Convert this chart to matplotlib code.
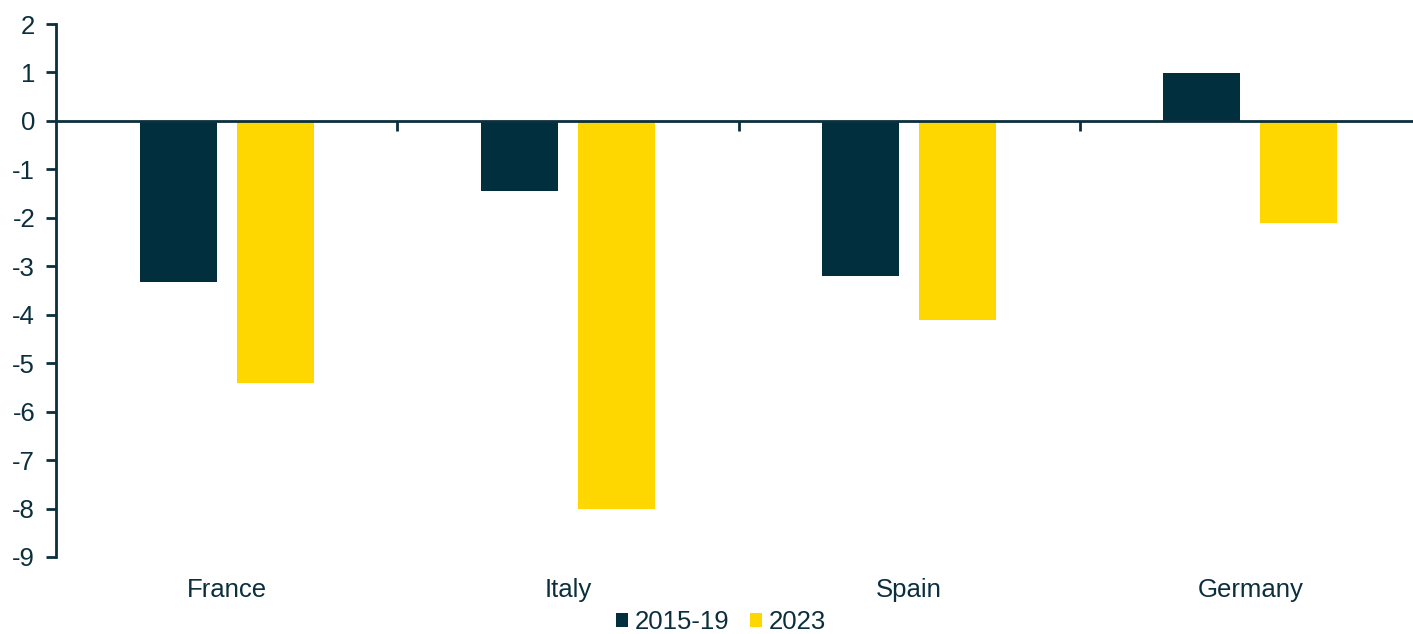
import numpy as np
import matplotlib
matplotlib.use("Agg")
import matplotlib.pyplot as plt
from matplotlib.transforms import blended_transform_factory

INK = "#0b2f3d"
DARK, YELLOW = "#022f3e", "#ffd700"
plt.rcParams.update({"font.family": ["Liberation Sans", "DejaVu Sans"], "font.size": 18.5,
                     "axes.unicode_minus": False,
                     "text.color": INK, "xtick.color": INK, "ytick.color": INK})

countries = ["France", "Italy", "Spain", "Germany"]
vals_1519 = [-3.33, -1.45, -3.2, 0.98]
vals_2023 = [-5.4, -8.0, -4.1, -2.1]

fig = plt.figure(figsize=(14.13, 6.34), dpi=100)
# axis runs a little past the right edge of the figure, as in the source
ax = fig.add_axes([56/1413, 1-557/634, 1365/1413, 533/634])

x = np.arange(len(countries))
w, gap = 0.226, 0.058
ax.bar(x - (w+gap)/2, vals_1519, w, color=DARK, label="2015-19")
ax.bar(x + (w+gap)/2, vals_2023, w, color=YELLOW, label="2023")

ax.set_xlim(-0.5, len(countries) - 0.5)
ax.set_ylim(-9, 2)
ax.set_yticks(range(-9, 3))
ax.tick_params(axis="y", direction="out", length=7, width=2, pad=8, labelsize=18.5)

for s in ["top", "right"]:
    ax.spines[s].set_visible(False)
ax.spines["left"].set_color(INK); ax.spines["left"].set_linewidth(2)
ax.spines["bottom"].set_position(("data", 0))
ax.spines["bottom"].set_color(INK); ax.spines["bottom"].set_linewidth(2)
ax.set_xticks(x[:-1] + 0.5)
ax.set_xticklabels([])
ax.tick_params(axis="x", direction="out", length=7, width=2)

tr = blended_transform_factory(ax.transData, ax.transAxes)
for xi, name in zip(x, countries):
    ax.text(xi, -0.04, name, transform=tr, ha="center", va="top", fontsize=18.5)

fig.legend(*ax.get_legend_handles_labels(), loc="center", bbox_to_anchor=(721/1413, 1-622/634),
           ncol=2, frameon=False, fontsize=18.5, handlelength=0.47, handleheight=0.47,
           handletextpad=0.27, columnspacing=0.8, borderpad=0.1)

fig.savefig("out.png", dpi=100)
